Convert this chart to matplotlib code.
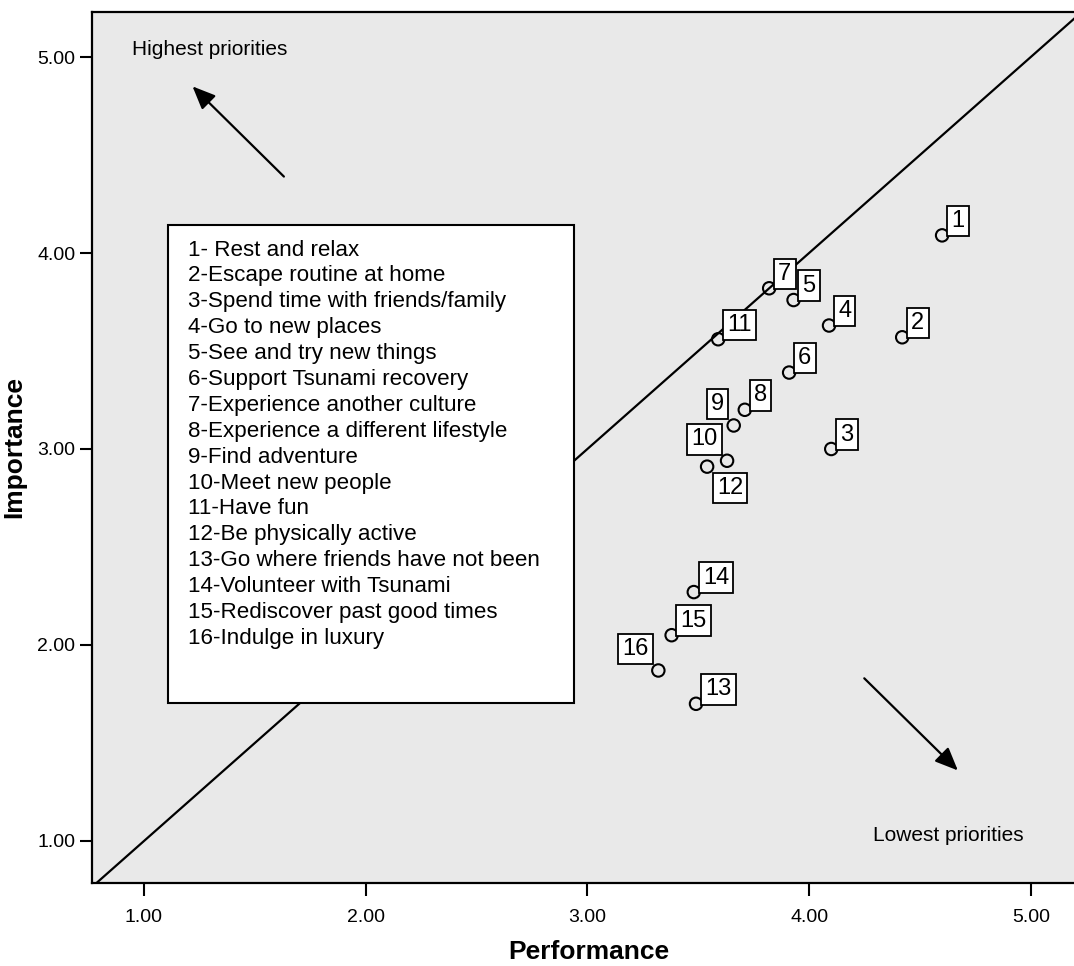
import matplotlib
matplotlib.use('Agg')
import matplotlib.pyplot as plt
from matplotlib.patches import Rectangle

plt.rcParams['font.family'] = ['Liberation Sans', 'DejaVu Sans']

# importance-performance values
item_ids = [str(i) for i in range(1, 17)]
performance = [4.60, 4.42, 4.10, 4.09, 3.93, 3.91, 3.82, 3.71,
               3.66, 3.63, 3.59, 3.54, 3.49, 3.48, 3.38, 3.32]
importance = [4.09, 3.57, 3.00, 3.63, 3.76, 3.39, 3.82, 3.20,
              3.12, 2.94, 3.56, 2.91, 1.70, 2.27, 2.05, 1.87]
item_names = ['1- Rest and relax', '2-Escape routine at home',
              '3-Spend time with friends/family', '4-Go to new places',
              '5-See and try new things', '6-Support Tsunami recovery',
              '7-Experience another culture', '8-Experience a different lifestyle',
              '9-Find adventure', '10-Meet new people', '11-Have fun',
              '12-Be physically active', '13-Go where friends have not been',
              '14-Volunteer with Tsunami', '15-Rediscover past good times',
              '16-Indulge in luxury']
ticks = [1.0, 2.0, 3.0, 4.0, 5.0]

# where each number box sits relative to its point
placement = {'9': 'ul', '10': 'ul', '16': 'ul', '12': 'lr'}

W, H = 1074, 966
fig = plt.figure(figsize=(W / 100, H / 100), dpi=100)
ax = fig.add_axes([92 / W, (966 - 883) / H, (1085 - 92) / W, (883 - 12) / H])
ax.set_facecolor('#e9e9e9')
ax.set_xlim(0.7655, 5.2445)
ax.set_ylim(0.7857, 5.2296)

# diagonal iso-line
ax.plot([0.5, 5.5], [0.5, 5.5], color='black', lw=1.6, zorder=2)

ax.scatter(performance, importance, s=80, facecolors='none',
           edgecolors='black', linewidths=1.5, zorder=4)

for lab, x, y in zip(item_ids, performance, importance):
    pos = placement.get(lab, 'ur')
    if pos == 'ur':
        off, ha, va = (6.5, 2.5), 'left', 'bottom'
    elif pos == 'ul':
        off, ha, va = (-7, 7.5), 'right', 'bottom'
    else:
        off, ha, va = (7, -7.5), 'left', 'top'
    ax.annotate(lab, (x, y), xytext=off, textcoords='offset points',
                ha=ha, va=va, fontsize=17, zorder=5,
                bbox=dict(boxstyle='square,pad=0.18', fc='white', ec='black', lw=1.3))

ax.set_xticks(ticks)
ax.set_yticks(ticks)
ax.set_xticklabels([f'{t:.2f}' for t in ticks], fontsize=14)
ax.set_yticklabels([f'{t:.2f}' for t in ticks], fontsize=14)
ax.tick_params(direction='out', length=9, width=1.5, pad=10, axis='x')
ax.tick_params(direction='out', length=9, width=1.5, pad=3, axis='y')
for sp in ax.spines.values():
    sp.set_linewidth(1.6)

ax.set_xlabel('Performance', fontsize=19, fontweight='bold', labelpad=10)
ax.set_ylabel('Importance', fontsize=19, fontweight='bold', labelpad=8)

# priority arrows
arrow_style = dict(arrowstyle='-|>,head_length=0.7,head_width=0.3',
                   lw=1.6, color='black', mutation_scale=20)
ax.annotate('', xy=(1.21, 4.86), xytext=(1.64, 4.38), arrowprops=arrow_style)
ax.annotate('', xy=(4.68, 1.35), xytext=(4.24, 1.84), arrowprops=arrow_style)
ax.text(0.946, 5.036, 'Highest priorities', fontsize=15, va='center', ha='left')
ax.text(4.288, 1.027, 'Lowest priorities', fontsize=15, va='center', ha='left')

# item key box
fig.patches.append(Rectangle((168 / W, 1 - 703 / H), (574 - 168) / W, (703 - 225) / H,
                             transform=fig.transFigure, fc='white', ec='black',
                             lw=1.5, zorder=1))
for i, name in enumerate(item_names):
    fig.text(188 / W, 1 - (250 + i * 25.9) / H, name, fontsize=16.1,
             va='center', ha='left', zorder=3)

fig.savefig('out.png', dpi=100)
